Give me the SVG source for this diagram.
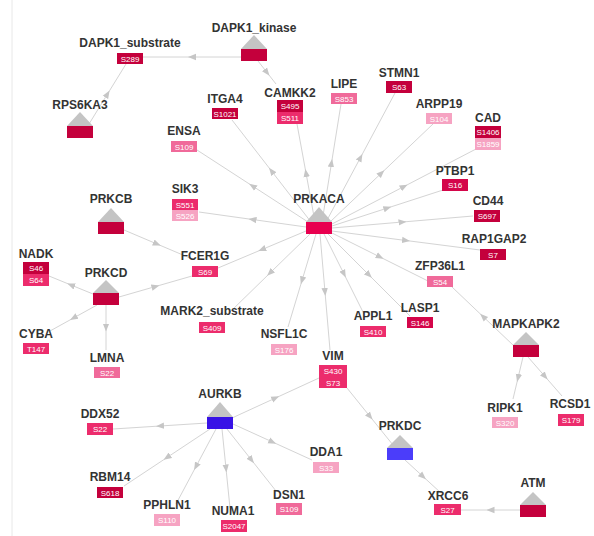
<svg xmlns="http://www.w3.org/2000/svg" width="594" height="536" viewBox="0 0 594 536">
  <style>
    .lbl { font-family: "Liberation Sans", Arial, sans-serif; font-weight: bold; font-size: 12px; fill: #333333; text-anchor: middle; }
    .site { font-family: "Liberation Sans", Arial, sans-serif; font-size: 8px; fill: #ffffff; text-anchor: middle; }
    .e { fill: none; stroke: #d4d4d4; stroke-width: 1; marker-mid: url(#arrow); }
    .tri { fill: #c4c4c4; }
    .c1 { fill: #c4003c; }
    .c2 { fill: #d4064a; }
    .c3 { fill: #ec2c6c; }
    .c4 { fill: #f06a9a; }
    .c5 { fill: #f6a3c2; }
    .hub { fill: #e8004f; }
    .blue1 { fill: #3812e6; }
    .blue2 { fill: #4b3dfa; }
  </style>
  <defs>
    <marker id="arrow" viewBox="0 0 10 10" refX="5" refY="5" markerWidth="8" markerHeight="8" markerUnits="userSpaceOnUse" orient="auto">
      <path d="M0,1 L10,5 L0,9 z" fill="#c6c6c6"/>
    </marker>
  </defs>

  <rect width="594" height="536" fill="#ffffff"/>
  <line x1="12" y1="0" x2="12" y2="536" stroke="#e8e8e8" stroke-width="1"/>

  <g id="edges">
    <path class="e" d="M241,57 L192,57 L143,57"/>
    <path class="e" d="M258,61 L267,72.5 L276,84"/>
    <path class="e" d="M89,124 L107.5,94 L126,64"/>
    <path class="e" d="M124,230 L157,244 L190,258"/>
    <path class="e" d="M119,297 L155.5,286.5 L192,276"/>
    <path class="e" d="M93,294 L71,285 L49,276"/>
    <path class="e" d="M97,305 L73.5,318 L50,331"/>
    <path class="e" d="M106,305 L106,327.5 L106,350"/>
    <path class="e" d="M308,222 L252.5,186 L197,150"/>
    <path class="e" d="M306,227 L252.5,219.5 L199,212"/>
    <path class="e" d="M311,222 L271.5,171 L232,120"/>
    <path class="e" d="M315,222 L306,173 L297,124"/>
    <path class="e" d="M322,222 L331.5,163 L341,104"/>
    <path class="e" d="M326,222 L360.5,157.5 L395,93"/>
    <path class="e" d="M330,222 L381.5,173 L433,124"/>
    <path class="e" d="M332,224 L404,186.5 L476,149"/>
    <path class="e" d="M332,226 L387.5,208 L443,190"/>
    <path class="e" d="M332,228 L402.5,222 L473,216"/>
    <path class="e" d="M332,231 L406,240.5 L480,250"/>
    <path class="e" d="M332,233 L380,257 L428,281"/>
    <path class="e" d="M328,234 L369,275 L410,316"/>
    <path class="e" d="M324,234 L344,274 L364,314"/>
    <path class="e" d="M320,234 L325,292 L330,350"/>
    <path class="e" d="M316,234 L302,280.5 L288,327"/>
    <path class="e" d="M310,234 L270,273 L230,312"/>
    <path class="e" d="M306,231 L262,249.5 L218,268"/>
    <path class="e" d="M514,346 L483,316.5 L452,287"/>
    <path class="e" d="M523,357 L518,378 L513,399"/>
    <path class="e" d="M528,357 L545,376.5 L562,396"/>
    <path class="e" d="M347,388 L370,416.5 L393,445"/>
    <path class="e" d="M405,460 L423,476.5 L441,493"/>
    <path class="e" d="M520,510 L490.5,510 L461,510"/>
    <path class="e" d="M232,418 L275.5,398 L319,378"/>
    <path class="e" d="M207,423 L160,426 L113,429"/>
    <path class="e" d="M210,429 L167,457.5 L124,486"/>
    <path class="e" d="M216,429 L196,466.5 L176,504"/>
    <path class="e" d="M222,429 L226,468.5 L230,508"/>
    <path class="e" d="M227,429 L251.5,460 L276,491"/>
    <path class="e" d="M233,424 L272.5,442 L312,460"/>
  </g>

  <!-- kinases: grey triangle over a coloured bar -->
  <g id="DAPK1_kinase">
    <text class="lbl" x="254" y="32">DAPK1_kinase</text>
    <polygon class="tri" points="254,35 267,49 241,49"/>
    <rect class="c1" x="241" y="49" width="26" height="12"/>
  </g>
  <g id="RPS6KA3">
    <text class="lbl" x="80" y="109">RPS6KA3</text>
    <polygon class="tri" points="80,112 93,126 67,126"/>
    <rect class="c1" x="67" y="126" width="26" height="12"/>
  </g>
  <g id="PRKCB">
    <text class="lbl" x="111" y="203">PRKCB</text>
    <polygon class="tri" points="111,208 124,222 98,222"/>
    <rect class="c1" x="98" y="222" width="26" height="12"/>
  </g>
  <g id="PRKCD">
    <text class="lbl" x="106" y="277">PRKCD</text>
    <polygon class="tri" points="106,280 119,293 93,293"/>
    <rect class="c1" x="93" y="293" width="26" height="12"/>
  </g>
  <g id="PRKACA">
    <text class="lbl" x="319" y="203">PRKACA</text>
    <polygon class="tri" points="319,207 332,222 306,222"/>
    <rect class="hub" x="306" y="222" width="26" height="12"/>
  </g>
  <g id="MAPKAPK2">
    <text class="lbl" x="526" y="328">MAPKAPK2</text>
    <polygon class="tri" points="526,332 539,345 513,345"/>
    <rect class="c1" x="513" y="345" width="26" height="12"/>
  </g>
  <g id="AURKB">
    <text class="lbl" x="220" y="398">AURKB</text>
    <polygon class="tri" points="220,402 233,417 207,417"/>
    <rect class="blue1" x="207" y="417" width="26" height="12"/>
  </g>
  <g id="PRKDC">
    <text class="lbl" x="400" y="430">PRKDC</text>
    <polygon class="tri" points="400,435 413,448 387,448"/>
    <rect class="blue2" x="387" y="448" width="26" height="12"/>
  </g>
  <g id="ATM">
    <text class="lbl" x="533" y="487">ATM</text>
    <polygon class="tri" points="533,492 546,505 520,505"/>
    <rect class="c1" x="520" y="505" width="26" height="12"/>
  </g>

  <!-- substrates: name over phosphosite boxes -->
  <g id="DAPK1_substrate">
    <text class="lbl" x="130" y="47">DAPK1_substrate</text>
    <rect class="c1" x="117" y="53" width="26" height="11"/><text class="site" x="130" y="61.5">S289</text>
  </g>
  <g id="ENSA">
    <text class="lbl" x="184" y="135">ENSA</text>
    <rect class="c4" x="171" y="141" width="26" height="11"/><text class="site" x="184" y="149.5">S109</text>
  </g>
  <g id="ITGA4">
    <text class="lbl" x="225" y="103">ITGA4</text>
    <rect class="c1" x="212" y="108" width="26" height="11"/><text class="site" x="225" y="116.5">S1021</text>
  </g>
  <g id="CAMKK2">
    <text class="lbl" x="290" y="97">CAMKK2</text>
    <rect class="c1" x="277" y="100" width="26" height="12"/><text class="site" x="290" y="109">S495</text>
    <rect class="c3" x="277" y="112" width="26" height="12"/><text class="site" x="290" y="121">S511</text>
  </g>
  <g id="LIPE">
    <text class="lbl" x="344" y="88">LIPE</text>
    <rect class="c4" x="331" y="93" width="26" height="11"/><text class="site" x="344" y="101.5">S853</text>
  </g>
  <g id="STMN1">
    <text class="lbl" x="399" y="77">STMN1</text>
    <rect class="c1" x="386" y="81" width="26" height="12"/><text class="site" x="399" y="90">S63</text>
  </g>
  <g id="ARPP19">
    <text class="lbl" x="439" y="108">ARPP19</text>
    <rect class="c5" x="426" y="113" width="26" height="11"/><text class="site" x="439" y="121.5">S104</text>
  </g>
  <g id="CAD">
    <text class="lbl" x="488" y="122">CAD</text>
    <rect class="c1" x="475" y="126" width="26" height="12"/><text class="site" x="488" y="135">S1406</text>
    <rect class="c5" x="475" y="138" width="26" height="12"/><text class="site" x="488" y="147">S1859</text>
  </g>
  <g id="PTBP1">
    <text class="lbl" x="455" y="175">PTBP1</text>
    <rect class="c2" x="442" y="179" width="26" height="12"/><text class="site" x="455" y="188">S16</text>
  </g>
  <g id="CD44">
    <text class="lbl" x="488" y="205">CD44</text>
    <rect class="c1" x="474" y="210" width="26" height="12"/><text class="site" x="487" y="219">S697</text>
  </g>
  <g id="RAP1GAP2">
    <text class="lbl" x="494" y="243">RAP1GAP2</text>
    <rect class="c1" x="480" y="249" width="26" height="11"/><text class="site" x="493" y="257.5">S7</text>
  </g>
  <g id="ZFP36L1">
    <text class="lbl" x="440" y="270">ZFP36L1</text>
    <rect class="c4" x="427" y="276" width="26" height="11"/><text class="site" x="440" y="284.5">S54</text>
  </g>
  <g id="LASP1">
    <text class="lbl" x="420" y="312">LASP1</text>
    <rect class="c2" x="407" y="317" width="26" height="11"/><text class="site" x="420" y="325.5">S146</text>
  </g>
  <g id="APPL1">
    <text class="lbl" x="373" y="320">APPL1</text>
    <rect class="c3" x="360" y="326" width="26" height="11"/><text class="site" x="373" y="334.5">S410</text>
  </g>
  <g id="NSFL1C">
    <text class="lbl" x="284" y="338">NSFL1C</text>
    <rect class="c5" x="271" y="344" width="26" height="11"/><text class="site" x="284" y="352.5">S176</text>
  </g>
  <g id="MARK2_substrate">
    <text class="lbl" x="212" y="315">MARK2_substrate</text>
    <rect class="c3" x="199" y="322" width="26" height="11"/><text class="site" x="212" y="330.5">S409</text>
  </g>
  <g id="FCER1G">
    <text class="lbl" x="205" y="260">FCER1G</text>
    <rect class="c3" x="192" y="266" width="26" height="11"/><text class="site" x="205" y="274.5">S69</text>
  </g>
  <g id="SIK3">
    <text class="lbl" x="185" y="193">SIK3</text>
    <rect class="c3" x="172" y="199" width="26" height="11"/><text class="site" x="185" y="207.5">S551</text>
    <rect class="c5" x="172" y="210" width="26" height="11"/><text class="site" x="185" y="218.5">S526</text>
  </g>
  <g id="NADK">
    <text class="lbl" x="36" y="258">NADK</text>
    <rect class="c1" x="23" y="262" width="26" height="12"/><text class="site" x="36" y="271">S46</text>
    <rect class="c3" x="23" y="274" width="26" height="12"/><text class="site" x="36" y="283">S64</text>
  </g>
  <g id="CYBA">
    <text class="lbl" x="36" y="338">CYBA</text>
    <rect class="c3" x="23" y="343" width="26" height="11"/><text class="site" x="36" y="351.5">T147</text>
  </g>
  <g id="LMNA">
    <text class="lbl" x="107" y="362">LMNA</text>
    <rect class="c4" x="94" y="367" width="26" height="11"/><text class="site" x="107" y="375.5">S22</text>
  </g>
  <g id="VIM">
    <text class="lbl" x="333" y="360">VIM</text>
    <rect class="c3" x="319" y="365" width="28" height="12"/><text class="site" x="333" y="374">S430</text>
    <rect class="c3" x="319" y="377" width="28" height="11"/><text class="site" x="333" y="385.5">S73</text>
  </g>
  <g id="DDX52">
    <text class="lbl" x="100" y="418">DDX52</text>
    <rect class="c3" x="87" y="423" width="26" height="12"/><text class="site" x="100" y="432">S22</text>
  </g>
  <g id="RBM14">
    <text class="lbl" x="110" y="481">RBM14</text>
    <rect class="c1" x="97" y="487" width="26" height="11"/><text class="site" x="110" y="495.5">S618</text>
  </g>
  <g id="PPHLN1">
    <text class="lbl" x="167" y="509">PPHLN1</text>
    <rect class="c5" x="154" y="514" width="26" height="12"/><text class="site" x="167" y="523">S110</text>
  </g>
  <g id="NUMA1">
    <text class="lbl" x="233" y="515">NUMA1</text>
    <rect class="c3" x="221" y="520" width="26" height="12"/><text class="site" x="234" y="529">S2047</text>
  </g>
  <g id="DSN1">
    <text class="lbl" x="289" y="499">DSN1</text>
    <rect class="c4" x="276" y="503" width="26" height="12"/><text class="site" x="289" y="512">S109</text>
  </g>
  <g id="DDA1">
    <text class="lbl" x="326" y="456">DDA1</text>
    <rect class="c5" x="313" y="462" width="26" height="11"/><text class="site" x="326" y="470.5">S33</text>
  </g>
  <g id="XRCC6">
    <text class="lbl" x="448" y="500">XRCC6</text>
    <rect class="c3" x="434" y="504" width="27" height="11"/><text class="site" x="447.5" y="512.5">S27</text>
  </g>
  <g id="RIPK1">
    <text class="lbl" x="505" y="412">RIPK1</text>
    <rect class="c5" x="492" y="417" width="26" height="11"/><text class="site" x="505" y="425.5">S320</text>
  </g>
  <g id="RCSD1">
    <text class="lbl" x="570" y="408">RCSD1</text>
    <rect class="c3" x="558" y="414" width="26" height="12"/><text class="site" x="571" y="423">S179</text>
  </g>
</svg>
